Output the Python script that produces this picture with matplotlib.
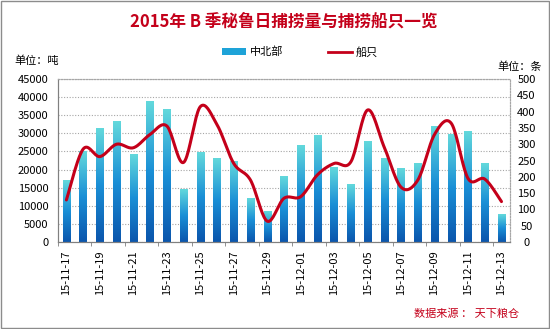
import numpy as np
import matplotlib
matplotlib.use('Agg')
import matplotlib.pyplot as plt
from matplotlib.colors import LinearSegmentedColormap
from matplotlib.patches import Rectangle
from matplotlib.lines import Line2D

plt.rcParams['font.family'] = ['Noto Sans CJK SC', 'DejaVu Sans']

# --- Data ---
dates = ['15-11-17', '15-11-18', '15-11-19', '15-11-20', '15-11-21', '15-11-22',
         '15-11-23', '15-11-24', '15-11-25', '15-11-26', '15-11-27', '15-11-28',
         '15-11-29', '15-11-30', '15-12-01', '15-12-02', '15-12-03', '15-12-04',
         '15-12-05', '15-12-06', '15-12-07', '15-12-08', '15-12-09', '15-12-10',
         '15-12-11', '15-12-12', '15-12-13']
catch_t = [17100, 24900, 31400, 33200, 24200, 38900, 36700, 14400, 24700, 23100,
           22200, 12100, 8400, 18000, 26600, 29300, 20500, 15900, 27700, 23100,
           20200, 21700, 31900, 29700, 30500, 21700, 7700]
boats = [129, 285, 262, 300, 289, 330, 356, 244, 415, 360, 241, 190, 64,
         134, 139, 206, 241, 246, 405, 290, 168, 190, 330, 364, 195, 193, 124]

DARK_RED = '#c4001a'
GRID = '#a6a6a6'


def smooth_curve(x, y, n=20):
    # Bezier-style smoothing through every point (like a spreadsheet "smoothed line")
    x = np.asarray(x, float)
    y = np.asarray(y, float)
    px = np.concatenate([[x[0]], x, [x[-1]]])
    py = np.concatenate([[y[0]], y, [y[-1]]])
    xs, ys = [], []
    t = np.linspace(0, 1, n, endpoint=False)
    for i in range(1, len(px) - 2):
        p0 = np.array([px[i], py[i]])
        p3 = np.array([px[i + 1], py[i + 1]])
        p1 = p0 + (np.array([px[i + 1], py[i + 1]]) - np.array([px[i - 1], py[i - 1]])) / 6
        p2 = p3 - (np.array([px[i + 2], py[i + 2]]) - np.array([px[i], py[i]])) / 6
        b = ((1 - t) ** 3)[:, None] * p0 + (3 * (1 - t) ** 2 * t)[:, None] * p1 \
            + (3 * (1 - t) * t ** 2)[:, None] * p2 + (t ** 3)[:, None] * p3
        xs.extend(b[:, 0])
        ys.extend(b[:, 1])
    xs.append(x[-1])
    ys.append(y[-1])
    return np.array(xs), np.array(ys)


fig = plt.figure(figsize=(5.5, 3.29), dpi=100)
fig.patches.append(Rectangle((0.002, 0.003), 0.996, 0.994, transform=fig.transFigure,
                             fill=False, edgecolor='#8c8c8c', linewidth=1.0))

ax = fig.add_axes([0.1055, 0.2644, 0.8215, 0.4955])
ax2 = ax.twinx()

x = np.arange(len(dates))
bar_w = 0.44
cmap = LinearSegmentedColormap.from_list('bar', ['#0b56ad', '#1a8fd6', '#62d8dc'])
grad = np.linspace(0, 1, 100).reshape(-1, 1)
for xi, h in zip(x, catch_t):
    ax.imshow(grad, cmap=cmap, origin='lower', aspect='auto',
              extent=[xi - bar_w / 2, xi + bar_w / 2, 0, h], zorder=2)

ax.set_xlim(-0.5, len(dates) - 0.5)
ax.set_ylim(0, 45000)
ax.set_yticks(np.arange(0, 45001, 5000))
ax.yaxis.grid(True, linestyle=(0, (1, 1.5)), color=GRID, linewidth=0.8, zorder=0)
ax.set_axisbelow(True)

ax.set_xticks(x[::2])
ax.set_xticklabels(dates[::2], rotation=90, fontsize=8)
ax.set_xticks(np.arange(-0.5, len(dates), 2), minor=True)
ax.tick_params(axis='x', which='major', length=0, pad=6)
ax.tick_params(axis='x', which='minor', length=3, color='#808080', direction='out')
ax.tick_params(axis='y', length=0, labelsize=8, pad=7)

sx, sy = smooth_curve(x, boats)
ax2.plot(sx, sy, color=DARK_RED, linewidth=2.2, solid_capstyle='round', zorder=5)
ax2.set_ylim(0, 500)
ax2.set_yticks(np.arange(0, 501, 50))
ax2.tick_params(axis='y', length=0, labelsize=8, pad=12)
for lab in ax2.get_yticklabels():
    lab.set_horizontalalignment('center')

for a in (ax, ax2):
    a.spines['left'].set_color('#808080')
    a.spines['bottom'].set_color('#808080')
    a.spines['top'].set_linestyle((0, (1, 1.5)))
    a.spines['top'].set_color(GRID)
    a.spines['right'].set_linestyle((0, (1, 1.5)))
    a.spines['right'].set_color(GRID)

fig.text(0.515, 0.935, '2015年 B 季秘鲁日捕捞量与捕捞船只一览', ha='center', va='center',
         fontsize=12, fontweight='bold', color=DARK_RED)
fig.text(0.027, 0.815, '单位：吨', ha='left', va='center', fontsize=8)
fig.text(0.985, 0.797, '单位：条', ha='right', va='center', fontsize=8)

handles = [Rectangle((0, 0), 1, 1, facecolor='#1ea3d8', edgecolor='none'),
           Line2D([0], [0], color=DARK_RED, linewidth=2)]
fig.legend(handles, ['中北部', '船只'], loc='center', bbox_to_anchor=(0.545, 0.842),
           ncol=2, frameon=False, fontsize=8, handlelength=2.2, handleheight=0.5,
           columnspacing=4, handletextpad=0.3)

fig.text(0.943, 0.03, '数据来源 ： 天下粮仓', ha='right', va='bottom', fontsize=8,
         color=DARK_RED)

fig.savefig('out.png', dpi=100)
